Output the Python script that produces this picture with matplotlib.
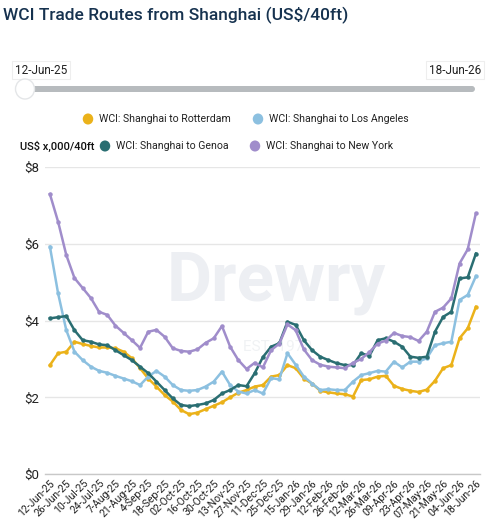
import matplotlib
matplotlib.use("Agg")
import matplotlib.pyplot as plt
from matplotlib.patches import FancyBboxPatch, Circle

plt.rcParams['font.family'] = ['Roboto', 'DejaVu Sans']

x_labels = ["12-Jun-25", "26-Jun-25", "10-Jul-25", "24-Jul-25", "7-Aug-25", "21-Aug-25",
            "4-Sep-25", "18-Sep-25", "02-Oct-25", "16-Oct-25", "30-Oct-25", "13-Nov-25",
            "27-Nov-25", "11-Dec-25", "25-Dec-25", "15-Jan-26", "29-Jan-26", "12-Feb-26",
            "26-Feb-26", "12-Mar-26", "26-Mar-26", "09-Apr-26", "23-Apr-26", "07-May-26",
            "21-May-26", "04-Jun-26", "18-Jun-26"]

rotterdam = [2.84, 3.15, 3.19, 3.45, 3.39, 3.34, 3.30, 3.30, 3.28, 3.19, 3.02, 2.76, 2.49,
             2.28, 2.06, 1.89, 1.67, 1.56, 1.60, 1.69, 1.78, 1.87, 2.00, 2.12, 2.19,
             2.28, 2.32, 2.54, 2.58, 2.84, 2.76, 2.49, 2.36, 2.17, 2.13, 2.10, 2.08, 2.02,
             2.45, 2.47, 2.54, 2.56, 2.30, 2.22, 2.17, 2.14, 2.20, 2.43, 2.76, 2.84,
             3.54, 3.80, 4.36]
los_angeles = [5.93, 4.71, 3.75, 3.19, 2.97, 2.80, 2.69, 2.64, 2.56, 2.49, 2.42, 2.32, 2.54,
               2.69, 2.54, 2.32, 2.19, 2.17, 2.19, 2.28, 2.41, 2.67, 2.32, 2.15, 2.10,
               2.19, 2.10, 2.50, 2.47, 3.15, 2.85, 2.54, 2.36, 2.19, 2.21, 2.19, 2.19, 2.41,
               2.58, 2.63, 2.69, 2.67, 2.93, 2.78, 2.93, 2.93, 3.02, 3.36, 3.41, 3.45,
               4.54, 4.67, 5.16]
genoa = [4.06, 4.09, 4.12, 3.75, 3.49, 3.45, 3.38, 3.36, 3.23, 3.10, 2.97, 2.80, 2.63,
         2.41, 2.19, 1.97, 1.80, 1.77, 1.80, 1.84, 1.93, 2.10, 2.19, 2.32, 2.29,
         2.63, 3.05, 3.32, 3.41, 3.97, 3.89, 3.49, 3.23, 3.06, 2.97, 2.89, 2.84, 2.84,
         3.15, 3.08, 3.49, 3.54, 3.45, 3.32, 3.06, 3.03, 3.06, 3.71, 4.10, 4.23,
         5.10, 5.13, 5.75]
new_york = [7.30, 6.58, 5.71, 5.11, 4.85, 4.59, 4.23, 4.15, 3.87, 3.68, 3.49, 3.29, 3.71,
            3.76, 3.58, 3.28, 3.21, 3.19, 3.25, 3.42, 3.54, 3.86, 3.32, 2.97, 2.74,
            2.90, 2.78, 3.23, 3.40, 3.90, 3.75, 3.25, 2.97, 2.85, 2.80, 2.78, 2.76, 2.90,
            3.00, 3.18, 3.40, 3.48, 3.68, 3.60, 3.57, 3.47, 3.71, 4.23, 4.34, 4.58,
            5.49, 5.86, 6.80]

series = [
    ("WCI: Shanghai to Rotterdam", rotterdam, "#EBB21A"),
    ("WCI: Shanghai to Los Angeles", los_angeles, "#8CC0E0"),
    ("WCI: Shanghai to Genoa", genoa, "#2A6E72"),
    ("WCI: Shanghai to New York", new_york, "#A08DCB"),
]

W, H = 500, 527
fig = plt.figure(figsize=(W / 100, H / 100), dpi=100)

def fx(px):
    return px / W

def fy(py):
    return 1 - py / H

# Title
fig.text(fx(3), fy(15), "WCI Trade Routes from Shanghai (US$/40ft)", fontsize=12.5,
         color="#16324F", fontweight="medium", va="center", ha="left")

# Slider
bar = FancyBboxPatch((fx(25), fy(92)), fx(475) - fx(25), fy(86) - fy(92),
                     boxstyle="round,pad=0,rounding_size=0.006", transform=fig.transFigure,
                     facecolor="#B7BBBE", edgecolor="none")
fig.patches.append(bar)
handle = Circle((fx(25), fy(89)), 0.019, transform=fig.transFigure, facecolor="white",
                edgecolor="#E4E6E8", lw=1, zorder=5)
fig.patches.append(handle)
fig.text(fx(41), fy(70), "12-Jun-25", fontsize=8.5, ha="center", va="center", color="#222222",
         bbox=dict(boxstyle="square,pad=0.25", facecolor="white", edgecolor="#EEEEEE", lw=0.8))
fig.text(fx(455), fy(70), "18-Jun-26", fontsize=8.5, ha="center", va="center", color="#222222",
         bbox=dict(boxstyle="square,pad=0.25", facecolor="white", edgecolor="#EEEEEE", lw=0.8))

# Legend
legend_pos = [(88, 119), (258, 119), (105, 146), (255, 146)]
for (name, _, color), (lx, ly) in zip(series, legend_pos):
    fig.patches.append(Circle((fx(lx), fy(ly)), 0.0105, transform=fig.transFigure,
                              facecolor=color, edgecolor="none"))
    fig.text(fx(lx + 11), fy(ly), name, fontsize=7.6, ha="left", va="center",
             color="#222222")
fig.text(fx(20), fy(146), "US$ x,000/40ft", fontsize=8.0, ha="left", va="center",
         color="#111111", fontweight="medium")

# Axes
ax = fig.add_axes([fx(45), fy(474), fx(480) - fx(45), fy(167.3) - fy(474)])
idx = list(range(len(new_york)))

# Watermark
ax.text(27.6, 5.0, "Drewry", fontsize=50, color="#EDEFF3", ha="center", va="center",
        fontweight="bold", zorder=0)
ax.text(27.8, 3.3, "EST. 1970", fontsize=11, color="#F0F2F4", ha="center", va="center",
        zorder=0)

for name, vals, color in series:
    ax.plot(idx, vals, color=color, lw=1.8, marker="o", markersize=2.2, zorder=3,
            solid_joinstyle="round")

ax.set_xlim(-0.6, 52.5)
ax.set_ylim(0, 8)
ax.set_yticks([0, 2, 4, 6, 8])
ax.set_yticklabels(["$0", "$2", "$4", "$6", "$8"], fontsize=9.5, color="#222222")
ax.set_xticks(list(range(0, 53, 2)))
ax.set_xticklabels(x_labels, rotation=45, ha="right", rotation_mode="anchor",
                   fontsize=7.6, color="#222222")
ax.tick_params(axis="both", length=0, pad=4)
ax.tick_params(axis="x", pad=3)
ax.grid(axis="y", color="#E6E6E6", lw=1)
ax.set_axisbelow(True)
for s in ["top", "right", "left"]:
    ax.spines[s].set_visible(False)
ax.spines["bottom"].set_color("#C8C8C8")
ax.spines["bottom"].set_linewidth(1)

fig.savefig("out.png", dpi=100)
